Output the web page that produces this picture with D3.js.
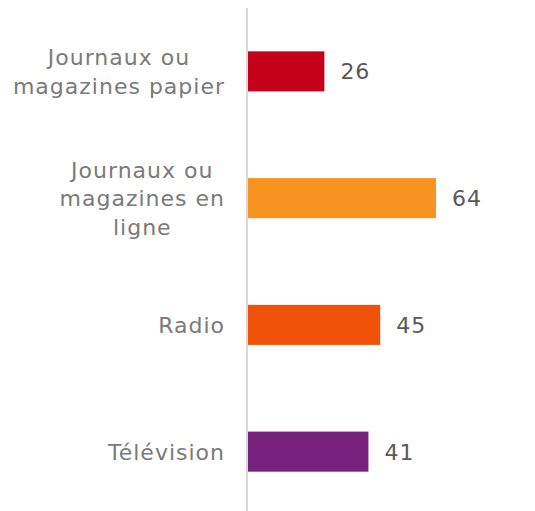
<!DOCTYPE html>
<html>
<head>
<meta charset="utf-8">
<script src="https://cdn.jsdelivr.net/npm/d3@7"></script>
<style>
  body { margin: 0; background: #fff; }
  svg { display: block; }
</style>
</head>
<body>
<div id="chart"></div>
<script>
// chart data
var categories = ["Journaux ou magazines papier", "Journaux ou magazines en ligne", "Radio", "Télévision"];
var labelLines = [["Journaux ou", "magazines papier"], ["Journaux ou", "magazines en", "ligne"], ["Radio"], ["Télévision"]];
var values = [26, 64, 45, 41];
var colors = ["#C5001A", "#F7931E", "#F0520A", "#78217D"];

var width = 535, height = 511;
var fontFamily = "'DejaVu Sans', Verdana, sans-serif";
var fontSize = 22;
var spacing = 1;
var lineHeight = 28.5;

var svg = d3.select("#chart")
    .append("svg")
    .attr("width", width)
    .attr("height", height);

var x = d3.scaleLinear()
    .domain([0, 64])
    .range([248, 436]);

var y = d3.scaleBand()
    .domain(categories)
    .range([8, 515])
    .paddingInner(0.684)
    .paddingOuter(0.342);

// bars
svg.selectAll(".bar")
    .data(values)
    .enter()
    .append("rect")
    .attr("class", "bar")
    .attr("x", x(0))
    .attr("y", function(d, i) { return y(categories[i]); })
    .attr("width", function(d) { return x(d) - x(0); })
    .attr("height", y.bandwidth())
    .style("fill", function(d, i) { return colors[i]; });

// category axis line
svg.append("line")
    .attr("x1", x(0) - 1)
    .attr("x2", x(0) - 1)
    .attr("y1", 8)
    .attr("y2", 515)
    .style("stroke", "#d9d9d9")
    .style("stroke-width", 2);

// value labels
svg.selectAll(".value")
    .data(values)
    .enter()
    .append("text")
    .attr("class", "value")
    .attr("x", function(d) { return x(d) + 16; })
    .attr("y", function(d, i) { return y(categories[i]) + y.bandwidth() / 2; })
    .attr("dy", "0.36em")
    .style("font-family", fontFamily)
    .style("font-size", fontSize + "px")
    .style("letter-spacing", spacing + "px")
    .style("fill", "#595959")
    .text(function(d) { return d; });

// category labels: block right aligned, lines centred inside it
var labelRight = 225;
categories.forEach(function(c, i) {
    var lines = labelLines[i];
    var g = svg.append("g");
    var texts = g.selectAll("text")
        .data(lines)
        .enter()
        .append("text")
        .style("font-family", fontFamily)
        .style("font-size", fontSize + "px")
        .style("letter-spacing", spacing + "px")
        .style("fill", "#7a7a7a")
        .attr("text-anchor", "middle")
        .attr("dy", "0.36em")
        .text(function(d) { return d; });
    var maxW = 0;
    texts.each(function() { maxW = Math.max(maxW, this.getComputedTextLength()); });
    var cy = y(c) + y.bandwidth() / 2;
    texts
        .attr("x", labelRight - maxW / 2)
        .attr("y", function(d, j) { return cy + (j - (lines.length - 1) / 2) * lineHeight; });
});
</script>
</body>
</html>
